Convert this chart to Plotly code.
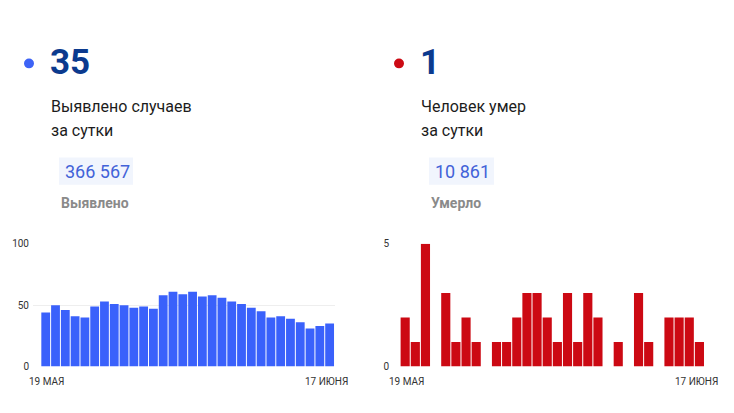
import pandas as pd
import plotly.graph_objects as go

# page body keeps its default 8px margin, so the figure is a bit smaller
PAGE_W, PAGE_H, PAD = 734, 413, 8
W, H = PAGE_W - 2 * PAD, PAGE_H - 2 * PAD

days = pd.date_range("2021-05-19", "2021-06-17").strftime("%d.%m").tolist()
cases = [44, 50, 46, 41, 40, 49, 53, 51, 50, 48, 49, 47, 58, 61, 59,
         61, 57, 58, 56, 53, 51, 48, 45, 40, 41, 39, 36, 31, 33, 35]
deaths = [2, 1, 5, 0, 3, 1, 2, 1, 0, 1, 1, 2, 3, 3, 2,
          1, 3, 1, 3, 2, 0, 1, 0, 3, 1, 0, 2, 2, 2, 1]
case_ticks = [0, 50, 100]
death_ticks = [0, 5]
date_labels = ["19 МАЯ", "17 ИЮНЯ"]
cards = [
    # dot colour, big number, caption lines, total, total caption
    ("#3d63f6", "35", ["Выявлено случаев", "за сутки"], "366 567", "Выявлено"),
    ("#cc0a14", "1", ["Человек умер", "за сутки"], "10 861", "Умерло"),
]

BLUE = "#3a61fb"
RED = "#cc0913"


def px_x(v):
    # page pixel -> paper fraction
    return (v - PAD) / W


def px_y(v):
    return 1 - (v - PAD) / H


fig = go.Figure()
fig.add_bar(x=days, y=cases, marker_color=BLUE, marker_line_width=0,
            xaxis="x", yaxis="y", hoverinfo="x+y")
fig.add_bar(x=days, y=deaths, marker_color=RED, marker_line_width=0,
            xaxis="x2", yaxis="y2", hoverinfo="x+y")

ydom = [px_y(371.5), px_y(245)]
axis_font = dict(family="Roboto", size=10, color="#333333")

fig.update_layout(
    width=W, height=H, margin=dict(l=0, r=0, t=0, b=0),
    paper_bgcolor="white", plot_bgcolor="white",
    showlegend=False, bargap=0.1,
    font=dict(family="Roboto"),
    xaxis=dict(domain=[px_x(33), px_x(335)], range=[-1.3, 29.55],
               showticklabels=False, showgrid=False, zeroline=False),
    yaxis=dict(domain=ydom, range=[0, 100], tickvals=case_ticks,
               gridcolor="#eeeeee", zeroline=False, tickfont=axis_font,
               ticks="", ticklabelstandoff=3),
    xaxis2=dict(domain=[px_x(393), px_x(705)], range=[-1.2, 29.55],
                showticklabels=False, showgrid=False, zeroline=False),
    yaxis2=dict(domain=ydom, range=[0, 5], tickvals=death_ticks, anchor="x2",
                gridcolor="#eeeeee", zeroline=False, tickfont=axis_font,
                ticks="", ticklabelstandoff=3),
)

# date labels under each chart
for left, right in [(27, 350), (387, 720)]:
    fig.add_annotation(x=px_x(left), y=px_y(387), xref="paper", yref="paper",
                       text=date_labels[0], showarrow=False, xanchor="left",
                       yanchor="middle", font=axis_font)
    fig.add_annotation(x=px_x(right), y=px_y(387), xref="paper", yref="paper",
                       text=date_labels[1], showarrow=False, xanchor="right",
                       yanchor="middle", font=axis_font)

# header cards
offsets = [0, 370]
box_w = [74, 65]
for off, bw, (dot, big, lines, total, total_cap) in zip(offsets, box_w, cards):
    fig.add_shape(type="circle", xref="paper", yref="paper",
                  x0=px_x(off + 24), x1=px_x(off + 34),
                  y0=px_y(64), y1=px_y(54),
                  fillcolor=dot, line_width=0)
    fig.add_annotation(x=px_x(off + 48), y=px_y(58.5), xref="paper", yref="paper",
                       text="<b>%s</b>" % big, showarrow=False, xanchor="left",
                       yanchor="middle",
                       font=dict(family="Roboto", size=35, color="#0b3a8e"))
    for i, line in enumerate(lines):
        fig.add_annotation(x=px_x(off + 49), y=px_y(103 + 25 * i),
                           xref="paper", yref="paper", text=line,
                           showarrow=False, xanchor="left", yanchor="middle",
                           font=dict(family="Roboto", size=16, color="#1c1c1c"))
    fig.add_shape(type="rect", xref="paper", yref="paper",
                  x0=px_x(off + 59), x1=px_x(off + 59 + bw),
                  y0=px_y(184), y1=px_y(156),
                  fillcolor="#f1f5fd", line_width=0, layer="below")
    fig.add_annotation(x=px_x(off + 63), y=px_y(170), xref="paper", yref="paper",
                       text=total, showarrow=False, xanchor="left",
                       yanchor="middle",
                       font=dict(family="Roboto", size=18, color="#4262d8"))
    fig.add_annotation(x=px_x(off + 59), y=px_y(203), xref="paper", yref="paper",
                       text="<b>%s</b>" % total_cap, showarrow=False,
                       xanchor="left", yanchor="middle",
                       font=dict(family="Roboto", size=14, color="#8a8a8a"))

fig.write_html("out.html", config={"displayModeBar": False})
